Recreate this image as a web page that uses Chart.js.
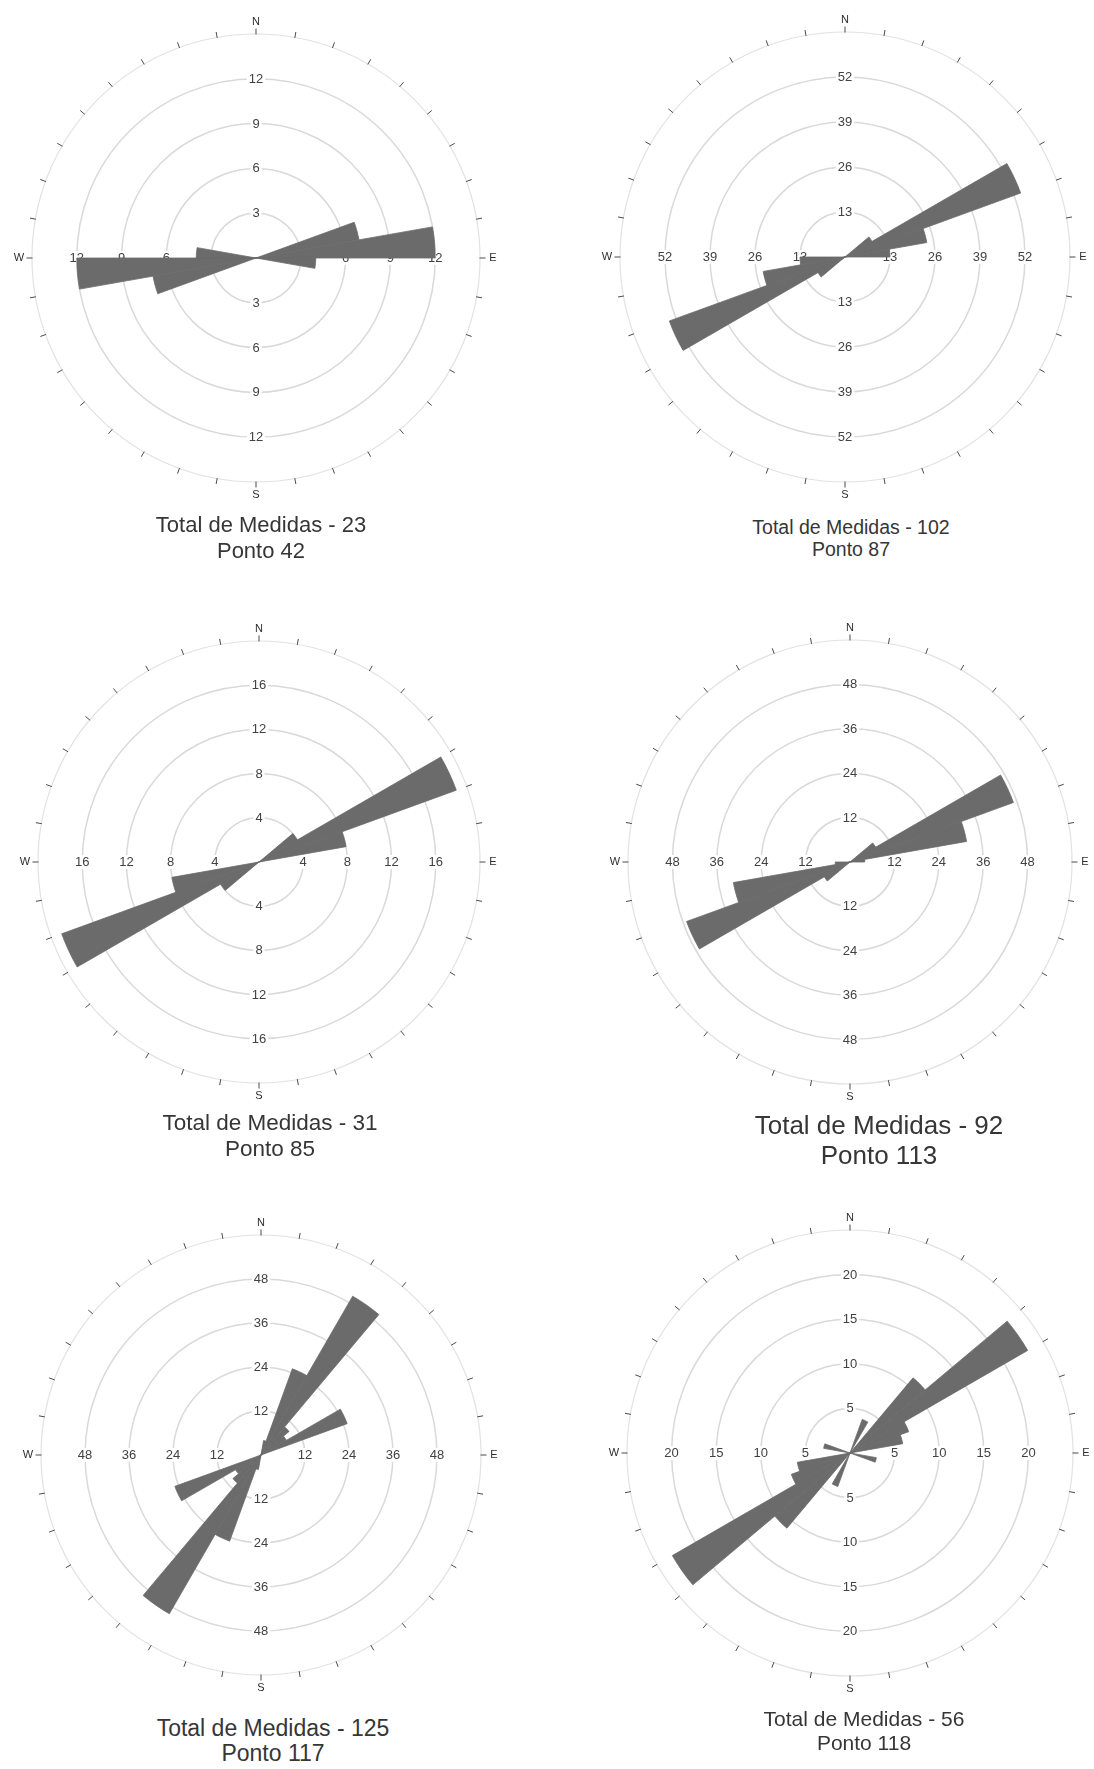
<!DOCTYPE html>
<html>
<head>
<meta charset="utf-8">
<script src="https://cdn.jsdelivr.net/npm/chart.js@4.4.1/dist/chart.umd.min.js"></script>
<style>
  html, body { margin: 0; padding: 0; background: #ffffff; }
  #page { position: relative; width: 1094px; height: 1769px; overflow: hidden; background: #ffffff; }
  #page canvas { position: absolute; }
  .caption {
    position: absolute; width: 400px; text-align: center; white-space: nowrap;
    font-family: "Liberation Sans", Arial, Helvetica, sans-serif; color: #363636;
  }
</style>
</head>
<body>
<div id="page"></div>
<script>
// Azimuth bins of 10°, clockwise from north.
const binLabels = ['0°','10°','20°','30°','40°','50°','60°','70°','80°','90°','100°','110°',
                   '120°','130°','140°','150°','160°','170°','180°','190°','200°','210°','220°','230°',
                   '240°','250°','260°','270°','280°','290°','300°','310°','320°','330°','340°','350°'];

// Counts per bin over 0°–180° (0-10, 10-20, ... 170-180); strikes are axial,
// so each count is also plotted on the opposite bin (θ + 180°).
const ponto42  = [0, 0, 0, 0, 0, 0, 0, 7, 12, 4, 0, 0, 0, 0, 0, 0, 0, 0];
const ponto87  = [0, 0, 0, 0, 0, 9, 54, 24, 13, 0, 0, 0, 0, 0, 0, 0, 0, 0];
const ponto85  = [0, 0, 0, 0, 0, 4, 19, 8, 0, 0, 0, 0, 0, 0, 0, 0, 0, 0];
const ponto113 = [0, 0, 0, 0, 0, 8, 47, 32, 4, 0, 0, 0, 0, 0, 0, 0, 0, 0];
const ponto117 = [0, 4, 25, 50, 10, 8, 25, 0, 0, 0, 0, 0, 0, 0, 0, 0, 0, 0];
const ponto118 = [0, 0, 4, 0, 11, 23, 7, 6, 0, 0, 3, 0, 0, 0, 0, 0, 0, 0];

// Ring spacing of each diagram (four labelled rings, outer frame at the fifth)
const ringSteps = [3, 13, 4, 12, 12, 5];
const totals    = [23, 102, 31, 92, 125, 56];
const pontos    = [42, 87, 85, 113, 117, 118];
const roseData  = [ponto42, ponto87, ponto85, ponto113, ponto117, ponto118];

const compass = ['N', 'E', 'S', 'W'];

// Page placement of each diagram and its caption
const panels = [
  { cx: 256, cy: 258,  R: 224, tx: 261, ty: 525,  fs: 22,   lh: 26   },
  { cx: 845, cy: 257,  R: 225, tx: 851, ty: 527,  fs: 19.5, lh: 22.5 },
  { cx: 259, cy: 862,  R: 221, tx: 270, ty: 1123, fs: 22.5, lh: 26   },
  { cx: 850, cy: 862,  R: 222, tx: 879, ty: 1126, fs: 26,   lh: 29.5 },
  { cx: 261, cy: 1455, R: 220, tx: 273, ty: 1728, fs: 23,   lh: 25   },
  { cx: 850, cy: 1453, R: 223, tx: 864, ty: 1719, fs: 21,   lh: 23.5 }
];

const PAD = 34;
const PETAL = '#6b6b6b';
const FONT = '"Liberation Sans", Arial, Helvetica, sans-serif';

// Ring labels on the four axes, tick marks round the frame and the compass letters
const roseFrame = {
  id: 'roseFrame',
  beforeDatasetsDraw(chart) {
    const s = chart.scales.r;
    const ctx = chart.ctx;
    const cx = s.xCenter, cy = s.yCenter;
    ctx.save();
    ctx.font = '13px ' + FONT;
    ctx.textAlign = 'center';
    ctx.textBaseline = 'middle';
    s.ticks.forEach(t => {
      if (t.value <= s.min || t.value >= s.max) return;
      const d = s.getDistanceFromCenterForValue(t.value);
      const txt = String(t.value);
      const w = ctx.measureText(txt).width + 4;
      [[0, -d], [0, d], [d, 0], [-d, 0]].forEach(([dx, dy]) => {
        ctx.fillStyle = '#ffffff';
        ctx.fillRect(cx + dx - w / 2, cy + dy - 7, w, 14);
        ctx.fillStyle = '#424242';
        ctx.fillText(txt, cx + dx, cy + dy + 0.5);
      });
    });
    ctx.restore();
  },
  afterDraw(chart) {
    const s = chart.scales.r;
    const ctx = chart.ctx;
    const cx = s.xCenter, cy = s.yCenter;
    const R = s.drawingArea;
    ctx.save();
    ctx.strokeStyle = '#4a4a4a';
    ctx.lineWidth = 1;
    for (let i = 0; i < binLabels.length; i++) {
      const a = (i * 360 / binLabels.length) * Math.PI / 180;
      const sx = Math.sin(a), sy = -Math.cos(a);
      ctx.beginPath();
      ctx.moveTo(cx + sx * (R - 0.5), cy + sy * (R - 0.5));
      ctx.lineTo(cx + sx * (R + 5.5), cy + sy * (R + 5.5));
      ctx.stroke();
    }
    ctx.font = '11px ' + FONT;
    ctx.fillStyle = '#2e2e2e';
    ctx.textAlign = 'center';
    ctx.textBaseline = 'middle';
    compass.forEach((c, k) => {
      const a = k * Math.PI / 2;
      ctx.fillText(c, cx + Math.sin(a) * (R + 13), cy - Math.cos(a) * (R + 12.5));
    });
    ctx.restore();
  }
};

const page = document.getElementById('page');

panels.forEach((p, k) => {
  const size = 2 * p.R + 2 * PAD;
  const canvas = document.createElement('canvas');
  canvas.width = size;
  canvas.height = size;
  canvas.style.width = size + 'px';
  canvas.style.height = size + 'px';
  canvas.style.left = (p.cx - p.R - PAD) + 'px';
  canvas.style.top = (p.cy - p.R - PAD) + 'px';
  page.appendChild(canvas);

  const counts = roseData[k];
  const step = ringSteps[k];

  new Chart(canvas, {
    type: 'polarArea',
    data: {
      labels: binLabels,
      datasets: [{
        data: counts.concat(counts),
        backgroundColor: PETAL,
        borderColor: PETAL,
        borderWidth: 0.8
      }]
    },
    options: {
      responsive: false,
      maintainAspectRatio: false,
      animation: false,
      devicePixelRatio: 1,
      layout: { padding: PAD },
      plugins: {
        legend: { display: false },
        tooltip: { enabled: false },
        title: { display: false }
      },
      scales: {
        r: {
          min: 0,
          max: step * 5,
          startAngle: 0,
          ticks: { display: false, stepSize: step },
          grid: {
            // the outermost circle is the frame and is drawn a little fainter
            color: c => (c.tick && c.tick.value >= step * 5) ? '#e2e2e2' : '#d9d9d9',
            lineWidth: c => (c.tick && c.tick.value >= step * 5) ? 1.2 : 1.5
          },
          angleLines: { display: false },
          pointLabels: { display: false }
        }
      }
    },
    plugins: [roseFrame]
  });

  const cap = document.createElement('div');
  cap.className = 'caption';
  cap.style.left = (p.tx - 200) + 'px';
  cap.style.top = (p.ty - p.lh / 2) + 'px';
  cap.style.fontSize = p.fs + 'px';
  cap.style.lineHeight = p.lh + 'px';
  cap.innerHTML = 'Total de Medidas - ' + totals[k] + '<br>Ponto ' + pontos[k];
  page.appendChild(cap);
});
</script>
</body>
</html>
